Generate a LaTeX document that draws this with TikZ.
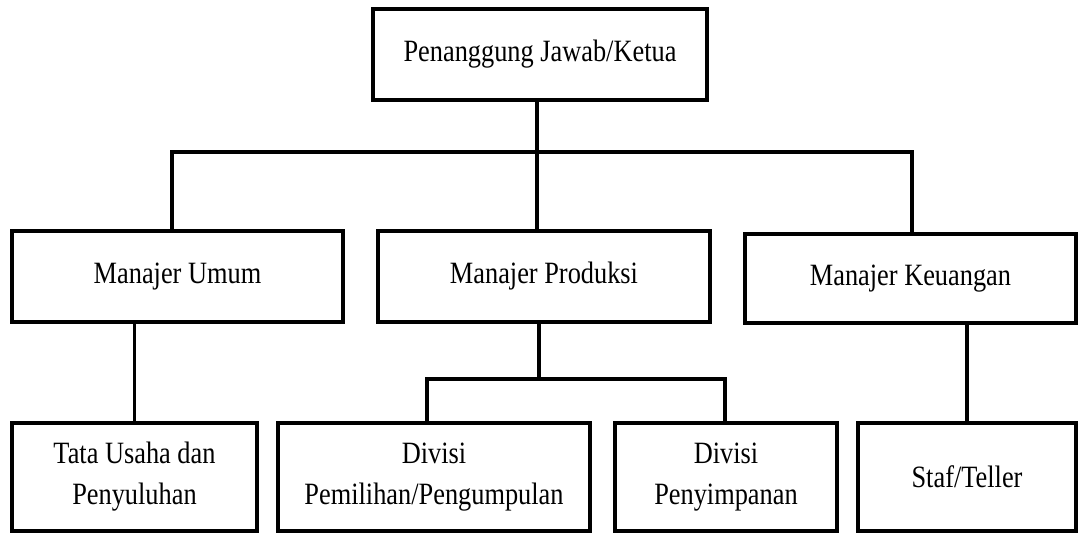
\documentclass[tikz,border=0pt]{standalone}
\usepackage{fontspec}
\setmainfont{Liberation Serif}[FakeStretch=0.85]
\usepackage{tikz}
\usetikzlibrary{positioning,calc}

\begin{document}
\begin{tikzpicture}[x=1pt,y=-1pt]
\tikzstyle{unit}=[rectangle, draw=black, line width=3.6pt, fill=white, align=center, inner sep=0pt, font=\fontsize{31}{41}\selectfont]
\tikzstyle{link}=[line width=3.4pt, draw=black]
  \useasboundingbox (0,0) rectangle (1079,534);
  % top
  \node[unit, minimum width=334pt, minimum height=91pt] (ketua) at (540,54.5) {Penanggung Jawab/Ketua};
  % managers
  \node[unit, minimum width=331pt, minimum height=91pt] (umum) at (177.5,276.5) {Manajer Umum};
  \node[unit, minimum width=332pt, minimum height=91pt] (produksi) at (544,276.5) {Manajer Produksi};
  \node[unit, minimum width=331pt, minimum height=89pt] (keuangan) at (910.5,278.5) {Manajer Keuangan};
  % staff units
  \node[unit, minimum width=245pt, minimum height=108pt] (tata) at (134.5,477) {Tata Usaha dan\\Penyuluhan};
  \node[unit, minimum width=312pt, minimum height=108pt] (pemilihan) at (434,477) {Divisi\\Pemilihan/Pengumpulan};
  \node[unit, minimum width=222pt, minimum height=108pt] (penyimpanan) at (726,477) {Divisi\\Penyimpanan};
  \node[unit, minimum width=218pt, minimum height=108pt] (staf) at (967,477) {Staf/Teller};
  % bus lines
  \coordinate (b0) at (537,152);
  \coordinate (bL) at (172,152);
  \coordinate (bR) at (912,152);
  \coordinate (p0) at (539,379);
  \coordinate (pL) at (427,379);
  \coordinate (pR) at (725,379);
  \draw[link] (b0 |- ketua.south) -- (b0);
  \draw[link] (bL |- umum.north) -- (bL) -- (bR) -- (bR |- keuangan.north);
  \draw[link] (b0) -- (b0 |- produksi.north);
  \draw[link] (p0 |- produksi.south) -- (p0);
  \draw[link] (pL |- pemilihan.north) -- (pL) -- (pR) -- (pR |- penyimpanan.north);
  \draw[link] (tata.north |- umum.south) -- (tata.north);
  \draw[link] (staf.north |- keuangan.south) -- (staf.north);
\end{tikzpicture}
\end{document}
